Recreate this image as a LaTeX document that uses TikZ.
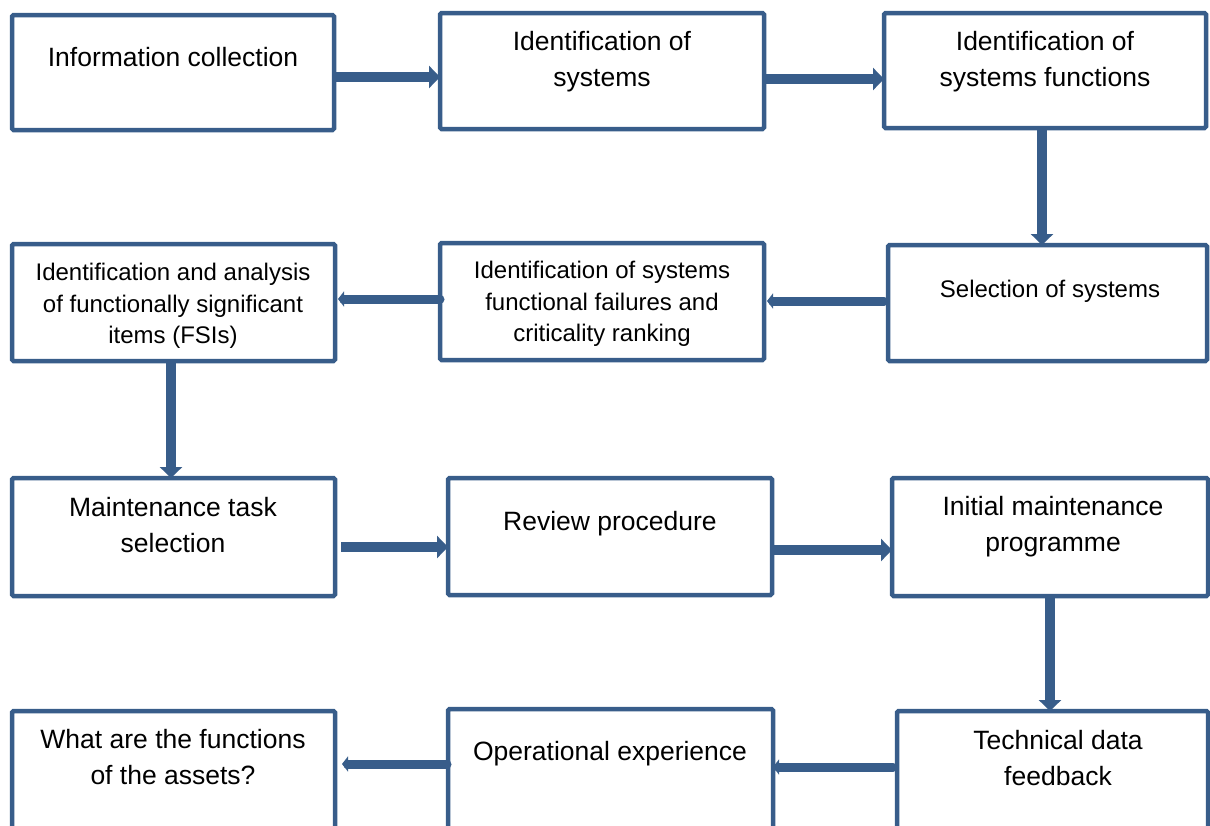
\documentclass[tikz,border=0pt]{standalone}
\usepackage{fontspec}
\setmainfont{Liberation Sans}
\usetikzlibrary{arrows.meta}
\definecolor{flowblue}{RGB}{56,93,138}
\begin{document}
\begin{tikzpicture}[x=1pt,y=-1pt,
  box/.style 2 args={draw=flowblue, line width=4.5pt, rounded corners=1.5pt, fill=white,
    inner sep=0pt, outer sep=0pt, minimum width=#1pt, minimum height=#2pt},
  big/.style={align=center, anchor=north, inner sep=0pt, font=\fontsize{26.5}{36}\selectfont},
  small/.style={align=center, anchor=north, inner sep=0pt, font=\fontsize{24}{31.5}\selectfont},
  fwd/.style={draw=flowblue, line width=10pt, -{Triangle[length=11pt,width=22pt]}},
  back/.style={draw=flowblue, line width=9pt, line cap=round, -{Triangle[length=6pt,width=15pt]}},
]
\useasboundingbox (0,0) rectangle (1210,825);
\clip (0,0) rectangle (1210,825);

% process boxes
\node[box={322}{115}] (b1) at (173,72.5) {};
\node[box={324}{116}] (b2) at (602,71) {};
\node[box={322}{115}] (b3) at (1045,70.5) {};
\node[box={323}{117}] (b4) at (173.5,302.5) {};
\node[box={324}{117}] (b5) at (602,301.5) {};
\node[box={319}{116}] (b6) at (1047.5,303) {};
\node[box={323}{118}] (b7) at (173.5,537) {};
\node[box={324}{117}] (b8) at (610,536.5) {};
\node[box={316}{118}] (b9) at (1050,537) {};
\node[box={323}{119}] (b10) at (173.5,770.5) {};
\node[box={325}{121}] (b11) at (610.5,769.5) {};
\node[box={311}{119}] (b12) at (1052.5,770.5) {};

% box texts
\node[big] (t1) at (173,47) {Information collection};
\node[big] (t2) at (602,31) {Identification of\\systems};
\node[big] (t3) at (1045,31) {Identification of\\systems functions};
\node[small] (t4) at (173,263) {Identification and analysis\\of functionally significant\\items (FSIs)};
\node[small] (t5) at (602,261) {Identification of systems\\functional failures and\\criticality ranking};
\node[small] (t6) at (1050,280) {Selection of systems};
\node[big] (t7) at (173,497) {Maintenance task\\selection};
\node[big] (t8) at (610,511) {Review procedure};
\node[big] (t9) at (1053,496) {Initial maintenance\\programme};
\node[big] (t10) at (173,729) {What are the functions\\of the assets?};
\node[big] (t11) at (610,741) {Operational experience};
\node[big] (t12) at (1058,730) {Technical data\\feedback};

% flow connectors
\draw[fwd] (b1.east |- 0,77) -- (b2.west |- 0,77);
\draw[fwd] (b2.east |- 0,79) -- (b3.west |- 0,79);
\draw[fwd] (1042,0 |- b3.south) -- (1042,0 |- b6.north);
\draw[back, shorten <=4pt, shorten >=3pt] (b6.west |- 0,301) -- (b5.east |- 0,301);
\draw[back, shorten >=3pt] (b5.west |- 0,299) -- (b4.east |- 0,299);
\draw[fwd] (171,0 |- b4.south) -- (171,0 |- b7.north);
\draw[fwd, shorten <=6pt] (b7.east |- 0,547) -- (b8.west |- 0,547);
\draw[fwd] (b8.east |- 0,550) -- (b9.west |- 0,550);
\draw[fwd] (1050,0 |- b9.south) -- (1050,0 |- b12.north);
\draw[back, shorten <=4pt] (b12.west |- 0,767) -- (b11.east |- 0,767);
\draw[back, shorten <=1pt, shorten >=7pt] (b11.west |- 0,764) -- (b10.east |- 0,764);
\end{tikzpicture}
\end{document}
